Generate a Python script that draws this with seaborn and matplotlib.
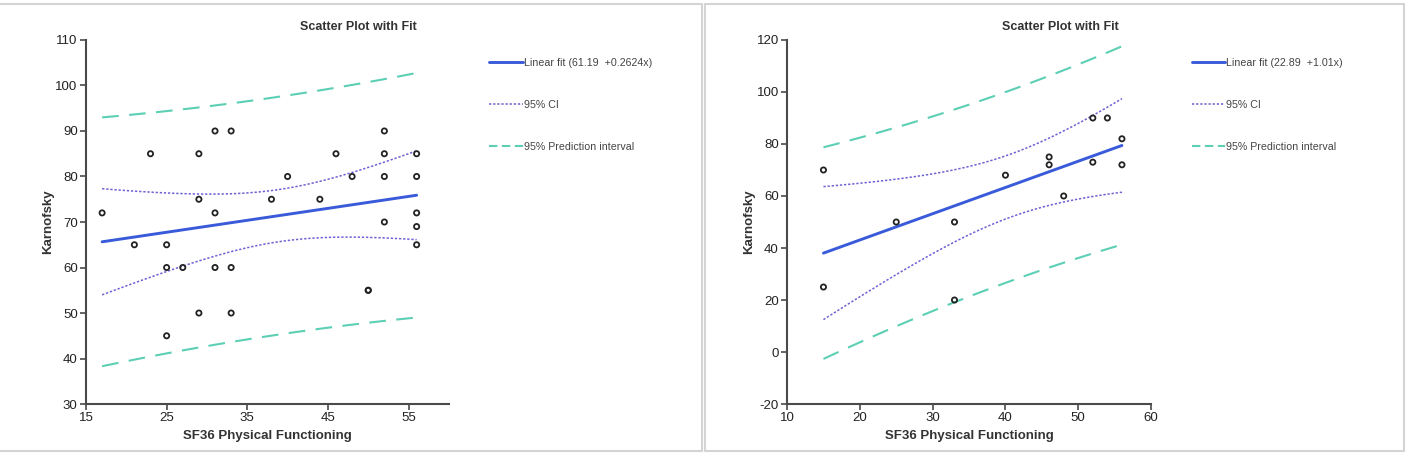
import numpy as np
import pandas as pd
import seaborn as sns
import matplotlib.pyplot as plt
from matplotlib.lines import Line2D
from matplotlib.patches import Rectangle

# left chart data (50,55 appears twice, the marks overlap)
sf36_a = [17, 21, 23, 25, 25, 25, 27, 29, 29, 29, 31, 31, 31, 33, 33, 33,
          38, 40, 44, 46, 48, 50, 50, 52, 52, 52, 52, 56, 56, 56, 56, 56]
karn_a = [72, 65, 85, 65, 60, 45, 60, 85, 75, 50, 90, 72, 60, 90, 60, 50,
          75, 80, 75, 85, 80, 55, 55, 90, 85, 80, 70, 85, 80, 72, 69, 65]
fit_label_a = "Linear fit (61.19  +0.2624x)"

# right chart data
sf36_b = [15, 15, 25, 33, 33, 40, 46, 46, 48, 52, 52, 54, 56, 56]
karn_b = [70, 25, 50, 50, 20, 68, 75, 72, 60, 90, 73, 90, 82, 72]
fit_label_b = "Linear fit (22.89  +1.01x)"

# 97.5% t quantile and 95% F(2, df) quantile, keyed by df = n-2
t_crit = {30: 2.042, 12: 2.179}
f_crit = {30: 3.316, 12: 3.885}

FIT_C = "#3a5bd9"
CI_C = "#6d62d4"
PI_C = "#5ccfb4"

sns.set_style("white")
plt.rcParams['font.family'] = ['Liberation Sans', 'DejaVu Sans']
plt.rcParams['axes.unicode_minus'] = False


def bands(x, y):
    x = np.asarray(x, float)
    y = np.asarray(y, float)
    n = len(x)
    b, a = np.polyfit(x, y, 1)
    res = y - (a + b * x)
    s = np.sqrt(np.sum(res ** 2) / (n - 2))
    sxx = np.sum((x - x.mean()) ** 2)
    grid = np.linspace(x.min(), x.max(), 100)
    yhat = a + b * grid
    # confidence band is simultaneous (Working-Hotelling), prediction is pointwise
    w = np.sqrt(2 * f_crit[n - 2])
    t = t_crit[n - 2]
    se_ci = s * np.sqrt(1 / n + (grid - x.mean()) ** 2 / sxx)
    se_pi = s * np.sqrt(1 + 1 / n + (grid - x.mean()) ** 2 / sxx)
    return pd.DataFrame({"x": grid, "fit": yhat,
                         "ci_lo": yhat - w * se_ci, "ci_hi": yhat + w * se_ci,
                         "pi_lo": yhat - t * se_pi, "pi_hi": yhat + t * se_pi})


def draw(ax, x, y, fit_label, xlim, xticks, ylim, yticks):
    b = bands(x, y)
    sns.lineplot(data=b, x="x", y="pi_hi", ax=ax, color=PI_C, lw=1.5)
    sns.lineplot(data=b, x="x", y="pi_lo", ax=ax, color=PI_C, lw=1.5)
    ax.lines[-1].set_dashes([8, 5])
    ax.lines[-2].set_dashes([8, 5])
    sns.lineplot(data=b, x="x", y="ci_hi", ax=ax, color=CI_C, lw=1.1)
    sns.lineplot(data=b, x="x", y="ci_lo", ax=ax, color=CI_C, lw=1.1)
    ax.lines[-1].set_dashes([1.5, 1.2])
    ax.lines[-2].set_dashes([1.5, 1.2])
    sns.lineplot(data=b, x="x", y="fit", ax=ax, color=FIT_C, lw=2.1)
    sns.scatterplot(x=x, y=y, ax=ax, marker="o", s=14, facecolor="none",
                    edgecolor="#222222", linewidth=1.3, zorder=5)

    ax.set_xlim(*xlim)
    ax.set_ylim(*ylim)
    ax.set_xticks(xticks)
    ax.set_yticks(yticks)
    for side in ["top", "right"]:
        ax.spines[side].set_visible(False)
    for side in ["left", "bottom"]:
        ax.spines[side].set_color("#4a4a4a")
        ax.spines[side].set_linewidth(1.5)
    ax.tick_params(axis="both", direction="out", length=4, width=1.2,
                   color="#4a4a4a", labelsize=9.5, labelcolor="#222222",
                   left=True, bottom=True, pad=2)
    ax.set_xlabel("SF36 Physical Functioning", fontsize=9.5, fontweight="bold",
                  color="#333333", labelpad=4)
    ax.set_ylabel("Karnofsky", fontsize=9.5, fontweight="bold",
                  color="#333333", labelpad=1)
    ax.set_title("Scatter Plot with Fit", fontsize=9, fontweight="bold",
                 color="#333333", x=0.75, y=1.0, pad=7)

    handles = [
        Line2D([], [], color=FIT_C, lw=2.1),
        Line2D([], [], color=CI_C, lw=1.1, dashes=[1.5, 1.2]),
        Line2D([], [], color=PI_C, lw=1.5, dashes=[4, 2.2]),
    ]
    leg = ax.legend(handles, [fit_label, "95% CI", "95% Prediction interval"],
                    loc="upper left", bbox_to_anchor=(1.1, 0.962),
                    frameon=False, fontsize=7.7, handlelength=3.1,
                    handletextpad=0.1, labelspacing=3.0, borderaxespad=0)
    for t in leg.get_texts():
        t.set_color("#444444")


fig = plt.figure(figsize=(14.12, 4.54), dpi=100)
ax1 = fig.add_axes([0.0609, 0.110, 0.257, 0.802])
ax2 = fig.add_axes([0.5574, 0.110, 0.2578, 0.802])

draw(ax1, sf36_a, karn_a, fit_label_a, (15, 60), [15, 25, 35, 45, 55],
     (30, 110), range(30, 111, 10))
draw(ax2, sf36_b, karn_b, fit_label_b, (10, 60), range(10, 61, 10),
     (-20, 120), range(-20, 121, 20))

# panel frames
fig.patches.append(Rectangle((-0.01, 0.007), 0.507, 0.985, transform=fig.transFigure,
                             fill=False, edgecolor="#d4d4d4", lw=1.5))
fig.patches.append(Rectangle((0.499, 0.007), 0.495, 0.985, transform=fig.transFigure,
                             fill=False, edgecolor="#d4d4d4", lw=1.5))

fig.savefig("out.png", dpi=100)
